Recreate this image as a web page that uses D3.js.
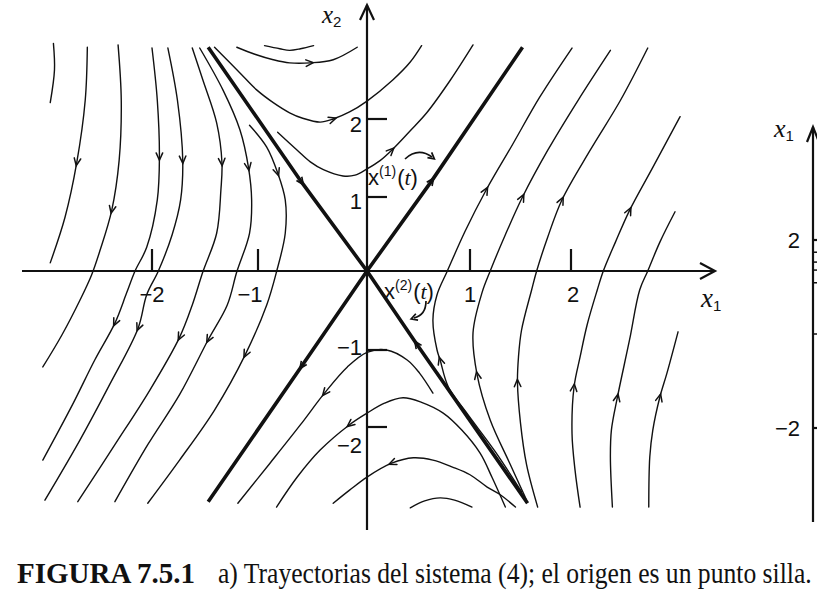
<!DOCTYPE html>
<html><head><meta charset="utf-8">
<script src="https://cdn.jsdelivr.net/npm/d3@7/dist/d3.min.js"></script>
<style>body{margin:0;background:#fff}svg{display:block}</style>
</head><body>
<svg id="c" width="817" height="608"></svg>
<script>
// ---------------- data ----------------
const xTicks = [-2, -1, 1, 2];
const xTickLabels = ["\u22122", "\u22121", "1", "2"];
const yTicks = [2, 1, -1, -2];
const yTickLabels = ["2", "1", "\u22121", "\u22122"];

// straight-line solutions (rays from the origin), in flow order
const eigenRays = [
  [[0, 0], [0.63, 1.21], [1.52, 2.92]],        // x(1)(t) outward
  [[0, 0], [-0.60, -1.21], [-1.47, -2.97]],    // outward
  [[-1.47, 2.92], [-0.60, 1.19], [0, 0]],      // x(2)(t) inward
  [[1.57, -2.99], [0.48, -0.92], [0, 0]]       // inward
];
const eigenArrowIdx = [1, 1, 1, 1];

// trajectories, each listed in the direction of motion
const trajectories = [
  // left sector
  [[-2.93,2.97],[-2.92,2.63],[-2.96,2.21]],
  [[-2.61,2.92],[-2.63,2.24],[-2.71,1.44],[-2.82,0.73],[-2.96,0.11]],
  [[-2.32,2.95],[-2.29,2.24],[-2.31,1.47],[-2.38,0.82],[-2.49,0.28],[-2.57,-0.05],[-2.68,-0.37],[-2.85,-0.81],[-3.03,-1.22]],
  [[-2.0,2.91],[-1.95,2.24],[-1.93,1.51],[-1.95,0.96],[-2.05,0.32],[-2.16,0],[-2.24,-0.28],[-2.35,-0.66],[-2.54,-1.13],[-2.75,-1.71],[-3.03,-2.43]],
  [[-1.85,2.91],[-1.76,2.24],[-1.71,1.47],[-1.73,0.96],[-1.81,0.49],[-1.94,0],[-2.05,-0.30],[-2.13,-0.72],[-2.40,-1.45],[-2.68,-2.17],[-3.01,-2.95]],
  [[-1.62,2.91],[-1.52,2.5],[-1.39,1.95],[-1.34,1.44],[-1.35,1.09],[-1.39,0.51],[-1.52,-0.01],[-1.62,-0.43],[-1.74,-0.84],[-2.02,-1.52],[-2.35,-2.23],[-2.70,-2.97]],
  [[-1.55,2.91],[-1.33,2.37],[-1.17,1.86],[-1.09,1.38],[-1.06,0.96],[-1.08,0.51],[-1.20,-0.01],[-1.29,-0.43],[-1.47,-0.87],[-1.74,-1.58],[-2.04,-2.23],[-2.35,-2.97]],
  [[-1.08,1.92],[-0.92,1.64],[-0.82,1.31],[-0.75,0.96],[-0.75,0.51],[-0.83,-0.01],[-0.92,-0.43],[-1.12,-1.06],[-1.41,-1.78],[-1.74,-2.43],[-2.04,-2.99]],
  // top sector
  [[-0.94,2.94],[-0.80,2.90],[-0.71,2.88],[-0.61,2.90],[-0.49,2.94]],
  [[-1.20,2.92],[-1.03,2.83],[-0.86,2.76],[-0.71,2.72],[-0.52,2.72],[-0.31,2.76],[-0.09,2.92]],
  [[-1.41,2.92],[-1.17,2.59],[-1.01,2.37],[-0.86,2.21],[-0.71,2.08],[-0.59,2.01],[-0.43,1.96],[-0.31,2.0],[-0.16,2.09],[0,2.23],[0.25,2.5],[0.42,2.73],[0.53,2.94]],
  [[-0.82,1.83],[-0.64,1.60],[-0.52,1.45],[-0.40,1.35],[-0.22,1.27],[-0.11,1.28],[0,1.36],[0.13,1.47],[0.24,1.60],[0.42,1.85],[0.58,2.08],[0.81,2.5],[1.03,2.95]],
  // right sector
  [[1.51,-2.84],[1.25,-2.32],[0.98,-1.84],[0.79,-1.48],[0.71,-1.13],[0.68,-1.0],[0.64,-0.62],[0.68,-0.30],[0.78,0],[0.95,0.53],[1.16,1.09],[1.42,1.67],[1.69,2.28],[2.01,2.91]],
  [[1.56,-2.95],[1.40,-2.49],[1.20,-1.91],[1.07,-1.32],[1.03,-0.78],[1.12,-0.27],[1.20,0],[1.35,0.49],[1.52,1.0],[1.77,1.60],[2.07,2.24],[2.39,2.88]],
  [[1.67,-3.04],[1.56,-2.49],[1.50,-1.95],[1.47,-1.42],[1.48,-1.09],[1.51,-0.75],[1.61,-0.24],[1.66,0],[1.77,0.46],[1.91,0.96],[2.19,1.60],[2.49,2.24],[2.76,2.91]],
  [[2.09,-3.04],[2.04,-2.56],[2.01,-2.08],[2.03,-1.48],[2.09,-1.09],[2.16,-0.68],[2.26,-0.24],[2.32,0],[2.44,0.39],[2.58,0.82],[2.81,1.38],[3.08,2.03]],
  [[2.41,-3.04],[2.39,-2.39],[2.40,-2.04],[2.46,-1.61],[2.58,-0.87],[2.68,-0.24],[2.76,0],[2.88,0.39],[3.03,0.80]],
  [[2.77,-3.04],[2.78,-2.39],[2.81,-2.04],[2.88,-1.61],[2.95,-1.30],[3.06,-0.77]],
  // bottom sector
  [[0.64,-1.56],[0.51,-1.30],[0.39,-1.13],[0.19,-1.0],[0,-1.03],[-0.18,-1.22],[-0.39,-1.56],[-0.61,-1.97],[-0.89,-2.47],[-1.19,-2.99]],
  [[1.35,-3.04],[1.22,-2.66],[1.10,-2.34],[0.92,-2.04],[0.74,-1.82],[0.53,-1.68],[0.35,-1.62],[0.17,-1.69],[0,-1.82],[-0.16,-1.97],[-0.43,-2.30],[-0.64,-2.65],[-0.83,-3.04]],
  [[1.45,-3.04],[1.30,-2.88],[1.17,-2.78],[1.0,-2.62],[0.83,-2.52],[0.64,-2.43],[0.45,-2.40],[0.24,-2.47],[0,-2.65],[-0.16,-2.82],[-0.31,-2.99]],
  [[1.02,-3.04],[0.85,-2.95],[0.71,-2.92],[0.56,-2.96],[0.42,-3.05]]
];
const trajArrowIdx = [
  [], [2], [3], [2,7], [2,7], [3,8], [3,8], [2,7],
  [], [4], [7], [8],
  [4,10], [3,8], [3,9], [3,9], [3], [3],
  [6], [9], [7], []
];

// right panel (x1 versus t), partially visible
const panelTicks = [2, -2];
const panelTickLabels = ["2", "\u22122"];
const panelStartValues = [1.74, 1.53, 1.36, 1.09, 0];

const captionBold = "FIGURA 7.5.1";
const captionText = "a) Trayectorias del sistema (4); el origen es un punto silla.";

// ---------------- drawing ----------------
const svg = d3.select("#c");
svg.append("rect").attr("width", 817).attr("height", 608).attr("fill", "#fff");

const sx = d3.scaleLinear().domain([-2, -1, 0, 1, 2]).range([152, 258, 367, 470, 571]);
const sy = d3.scaleLinear().domain([-2, -1, 0, 1, 2]).range([427, 350, 271, 197, 119]);

const ink = "#111";
const line = d3.line().x(d => sx(d[0])).y(d => sy(d[1])).curve(d3.curveCatmullRom.alpha(0.5));
const straight = d3.line().x(d => sx(d[0])).y(d => sy(d[1]));

function arrowHead(x, y, dx, dy, len, ang) {
  const n = Math.hypot(dx, dy) || 1, ux = dx / n, uy = dy / n;
  const tx = x + ux * 3, ty = y + uy * 3;
  const c = Math.cos(ang), s = Math.sin(ang);
  const w1x = tx - len * (ux * c - uy * s), w1y = ty - len * (uy * c + ux * s);
  const w2x = tx - len * (ux * c + uy * s), w2y = ty - len * (uy * c - ux * s);
  return `M${w1x},${w1y}L${tx},${ty}L${w2x},${w2y}`;
}
function arrowOn(pts, i) {
  const a = pts[Math.max(0, i - 1)], b = pts[Math.min(pts.length - 1, i + 1)];
  return arrowHead(sx(pts[i][0]), sy(pts[i][1]), sx(b[0]) - sx(a[0]), sy(b[1]) - sy(a[1]), 8, 0.42);
}

// axes
const gAx = svg.append("g").attr("stroke", ink).attr("fill", "none").attr("stroke-width", 2.2);
gAx.append("line").attr("x1", 22).attr("x2", 715).attr("y1", sy(0)).attr("y2", sy(0));
gAx.append("path").attr("d", `M700,${sy(0) - 8}L715,${sy(0)}L700,${sy(0) + 8}`);
gAx.append("line").attr("x1", sx(0)).attr("x2", sx(0)).attr("y1", 5).attr("y2", 530);
gAx.append("path").attr("d", `M${sx(0) - 7},20L${sx(0)},5L${sx(0) + 7},20`);
xTicks.forEach(t => gAx.append("line").attr("x1", sx(t)).attr("x2", sx(t)).attr("y1", sy(0) - 22).attr("y2", sy(0)));
yTicks.forEach(t => gAx.append("line").attr("x1", sx(0)).attr("x2", sx(0) + 20).attr("y1", sy(t)).attr("y2", sy(t)));

// tick labels
const xLabelDx = [0, -8, 0, 2];
const gT = svg.append("g").attr("font-family", "Liberation Sans, Arial, sans-serif").attr("font-size", 22).attr("fill", ink);
xTicks.forEach((t, i) => gT.append("text").attr("x", sx(t) + xLabelDx[i]).attr("y", sy(0) + 31)
  .attr("text-anchor", "middle").text(xTickLabels[i]));
const yLabelDy = [13, 12, 5, 26];
yTicks.forEach((t, i) => gT.append("text").attr("x", sx(0) - 5).attr("y", sy(t) + yLabelDy[i])
  .attr("text-anchor", "end").text(yTickLabels[i]));

// axis names
function axisName(g, x, y, sub, fs) {
  const t = g.append("text").attr("x", x).attr("y", y).attr("fill", ink);
  t.append("tspan").attr("font-family", "Liberation Serif, Times New Roman, serif").attr("font-style", "italic").attr("font-size", fs).text("x");
  t.append("tspan").attr("font-family", "Liberation Sans, Arial, sans-serif").attr("font-size", 15).attr("dy", 4).text(sub);
}
axisName(svg, 322, 23, "2", 25);
axisName(svg, 701, 307, "1", 27);

// trajectories
const gTr = svg.append("g").attr("fill", "none").attr("stroke", ink).attr("stroke-width", 1.4).attr("stroke-linecap", "round");
trajectories.forEach((pts, k) => {
  gTr.append("path").attr("d", line(pts));
  trajArrowIdx[k].forEach(i => gTr.append("path").attr("d", arrowOn(pts, i)).attr("stroke-width", 1.5));
});

// straight-line solutions
const gE = svg.append("g").attr("fill", "none").attr("stroke", ink).attr("stroke-width", 3.6);
eigenRays.forEach((pts, k) => {
  gE.append("path").attr("d", straight(pts));
  gE.append("path").attr("d", arrowOn(pts, eigenArrowIdx[k])).attr("stroke-width", 1.6);
});

// annotations x^(1)(t), x^(2)(t)
function solLabel(x, y, n) {
  const t = svg.append("text").attr("x", x).attr("y", y).attr("fill", ink)
    .attr("font-family", "Liberation Sans, Arial, sans-serif").attr("font-size", 22);
  t.append("tspan").text("x");
  t.append("tspan").attr("font-size", 14).attr("dy", -9).text(`(${n})`);
  t.append("tspan").attr("dy", 9).attr("dx", 1).text("(");
  t.append("tspan").attr("font-family", "Liberation Serif, Times New Roman, serif").attr("font-style", "italic").text("t");
  t.append("tspan").text(")");
}
solLabel(368, 185, 1);
solLabel(384, 299, 2);
const gA = svg.append("g").attr("fill", "none").attr("stroke", ink).attr("stroke-width", 1.7);
gA.append("path").attr("d", "M405,159Q418,147 432,157");
gA.append("path").attr("d", arrowHead(432, 157, 1, 0.8, 7, 0.5));
gA.append("path").attr("d", "M426,301Q426,315 414,318");
gA.append("path").attr("d", arrowHead(414, 318, -1, 0.35, 7, 0.5));

// right panel
const sp = d3.scaleLinear().domain([-2, 2]).range([428, 240]);
const gP = svg.append("g").attr("stroke", ink).attr("fill", "none").attr("stroke-width", 2.2);
gP.append("line").attr("x1", 813).attr("x2", 813).attr("y1", 127).attr("y2", 522);
gP.append("path").attr("d", "M807,142L813,127L819,142");
panelTicks.forEach(v => gP.append("line").attr("x1", 813).attr("x2", 818).attr("y1", sp(v)).attr("y2", sp(v)));
panelStartValues.forEach(v => gP.append("line").attr("x1", 813).attr("x2", 817).attr("y1", sp(v)).attr("y2", sp(v)).attr("stroke-width", 1.5));
panelTicks.forEach((v, i) => gT.append("text").attr("x", 800).attr("y", sp(v) + 8).attr("text-anchor", "end").text(panelTickLabels[i]));
axisName(svg, 774, 137, "1", 26);

// caption (condensed horizontally with a transform)
const cap = svg.append("g").attr("font-family", "Liberation Serif, Times New Roman, serif").attr("fill", ink).attr("font-size", 29);
function capText(x, w, str, bold) {
  const t = cap.append("text").attr("x", 0).attr("y", 0).text(str);
  if (bold) t.attr("font-weight", "bold");
  const nat = t.node().getComputedTextLength();
  t.attr("transform", `translate(${x},583) scale(${w / nat},1)`);
}
capText(17, 178, captionBold, true);
capText(218, 594, captionText, false);
</script>
</body></html>
